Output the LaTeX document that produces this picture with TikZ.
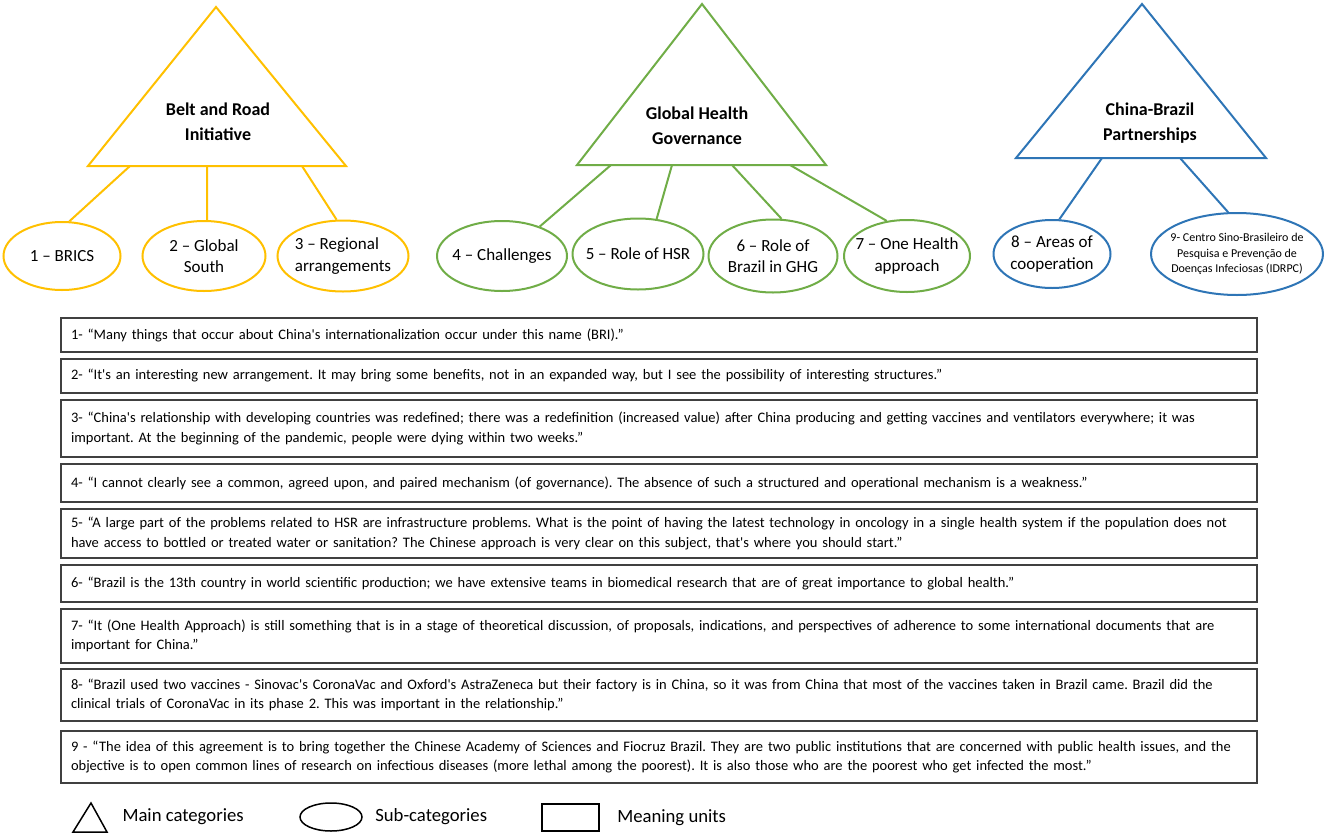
\documentclass[tikz,border=0pt]{standalone}
\usepackage{fontspec}
\setmainfont{Carlito}[Ligatures=TeXOff]
\usepackage{tikz}
\usetikzlibrary{positioning,shapes.geometric}

\definecolor{bricolor}{HTML}{FFC000}
\definecolor{ghgcolor}{HTML}{70AD47}
\definecolor{cbpcolor}{HTML}{2E75B6}
\definecolor{unitgray}{HTML}{404040}

\begin{document}
\frenchspacing
\begin{tikzpicture}[x=1pt, y=-1pt, node distance=7pt, every node/.style={font=\fontsize{14.5}{19.5}\selectfont}]
  % Styles
  \tikzstyle{maincat}=[line width=2pt, line join=miter]
  \tikzstyle{cattitle}=[font=\fontsize{18}{25}\selectfont\bfseries, align=center]
  \tikzstyle{subcat}=[ellipse, draw, line width=2pt, fill=white, inner sep=0pt]
  \tikzstyle{subtxt}=[font=\fontsize{17}{21.5}\selectfont, align=center]
  \tikzstyle{spoke}=[line width=2pt]
  \tikzstyle{unit}=[rectangle, draw=unitgray, line width=1.5pt, text width=1176pt, inner xsep=10pt, outer sep=0pt, align=left]
  \tikzstyle{legline}=[line width=1.5pt, line join=miter]
  \tikzstyle{legtxt}=[font=\fontsize{18.7}{22}\selectfont, anchor=west]

  \useasboundingbox (0,0) rectangle (1325,835);

  % Main categories
  \coordinate (bri-top) at (216,7);
  \coordinate (bri-left) at (88,166);
  \coordinate (bri-right) at (346,166);
  \draw[maincat, draw=bricolor] (bri-top) -- (bri-right) -- (bri-left) -- cycle;
  \node[cattitle] (bri) at (218,122) {Belt and Road\\Initiative};

  \coordinate (ghg-top) at (702,4);
  \coordinate (ghg-left) at (577,165);
  \coordinate (ghg-right) at (826,165);
  \draw[maincat, draw=ghgcolor] (ghg-top) -- (ghg-right) -- (ghg-left) -- cycle;
  \node[cattitle] (ghg) at (697,126) {Global Health\\Governance};

  \coordinate (cbp-top) at (1142,4);
  \coordinate (cbp-left) at (1016,158);
  \coordinate (cbp-right) at (1266,158);
  \draw[maincat, draw=cbpcolor] (cbp-top) -- (cbp-right) -- (cbp-left) -- cycle;
  \node[cattitle] (cbp) at (1150,123) {China-Brazil\\Partnerships};

  % Sub-categories
  \node[subcat, draw=bricolor, minimum width=117pt, minimum height=68pt, label={[subtxt]center:1 – BRICS}] (brics) at (62,256) {};
  \node[subcat, draw=bricolor, minimum width=123pt, minimum height=70pt, label={[subtxt]center:{2 – Global\\South}}] (south) at (204,256) {};
  \node[subcat, draw=bricolor, minimum width=131pt, minimum height=71pt, label={[subtxt, align=left]center:{3 – Regional\\arrangements}}] (regional) at (343,256) {};

  \node[subcat, draw=ghgcolor, minimum width=130pt, minimum height=70pt, label={[subtxt]center:4 – Challenges}] (challenges) at (502,256) {};
  \node[subcat, draw=ghgcolor, minimum width=131pt, minimum height=71pt, label={[subtxt]center:5 – Role of HSR}] (hsr) at (638,254) {};
  \node[subcat, draw=ghgcolor, minimum width=129pt, minimum height=73pt, label={[subtxt]center:{6 – Role of\\Brazil in GHG}}] (brazil) at (773,256) {};
  \node[subcat, draw=ghgcolor, minimum width=126pt, minimum height=72pt, label={[subtxt]center:{7 – One Health\\approach}}] (onehealth) at (907,256) {};

  \node[subcat, draw=cbpcolor, minimum width=117pt, minimum height=68pt, label={[subtxt]center:{8 – Areas of\\cooperation}}] (areas) at (1052,254) {};
  \node[subcat, draw=cbpcolor, minimum width=172pt, minimum height=82pt, label={[subtxt, font=\fontsize{12}{15.5}\selectfont]center:{9- Centro Sino-Brasileiro de\\Pesquisa e Prevenção de\\Doenças Infeciosas (IDRPC)}}] (idrpc) at (1237,254) {};

  % Spokes
  \coordinate (bri-s1) at (130,166);
  \coordinate (bri-s2) at (207,166);
  \coordinate (bri-s3) at (302,166);
  \draw[spoke, bricolor] (bri-s1) -- (brics.78);
  \draw[spoke, bricolor] (bri-s2) -- (south.85);
  \draw[spoke, bricolor] (bri-s3) -- (regional.100);

  \coordinate (ghg-s1) at (611,165);
  \coordinate (ghg-s2) at (672,165);
  \coordinate (ghg-s3) at (732,165);
  \coordinate (ghg-s4) at (790,165);
  \draw[spoke, ghgcolor] (ghg-s1) -- (challenges.38);
  \draw[spoke, ghgcolor] (ghg-s2) -- (hsr.62);
  \draw[spoke, ghgcolor] (ghg-s3) -- (brazil.77);
  \draw[spoke, ghgcolor] (ghg-s4) -- (onehealth.120);

  \coordinate (cbp-s1) at (1102,158);
  \coordinate (cbp-s2) at (1180,158);
  \draw[spoke, cbpcolor] (cbp-s1) -- (areas.78);
  \draw[spoke, cbpcolor] (cbp-s2) -- (idrpc.102);

  % Meaning units
  \node[unit, minimum height=34pt, anchor=north west] (u1) at (61,318) {1- “Many things that occur about China's internationalization occur under this name (BRI).”};
  \node[unit, minimum height=34pt, below=of u1] (u2) {2- “It's an interesting new arrangement. It may bring some benefits, not in an expanded way, but I see the possibility of interesting structures.”};
  \node[unit, minimum height=57pt, below=of u2] (u3) {3- “China's relationship with developing countries was redefined; there was a redefinition (increased value) after China producing and getting vaccines and ventilators everywhere; it was\\important. At the beginning of the pandemic, people were dying within two weeks.”};
  \node[unit, minimum height=38pt, below=of u3] (u4) {4- “I cannot clearly see a common, agreed upon, and paired mechanism (of governance). The absence of such a structured and operational mechanism is a weakness.”};
  \node[unit, minimum height=49pt, below=of u4] (u5) {5- “A large part of the problems related to HSR are infrastructure problems. What is the point of having the latest technology in oncology in a single health system if the population does not\\have access to bottled or treated water or sanitation? The Chinese approach is very clear on this subject, that's where you should start.”};
  \node[unit, minimum height=37pt, below=of u5] (u6) {6- “Brazil is the 13th country in world scientific production; we have extensive teams in biomedical research that are of great importance to global health.”};
  \node[unit, minimum height=54pt, below=of u6] (u7) {7- “It (One Health Approach) is still something that is in a stage of theoretical discussion, of proposals, indications, and perspectives of adherence to some international documents that are\\important for China.”};
  \node[unit, minimum height=52pt, below=6pt of u7] (u8) {8- “Brazil used two vaccines - Sinovac's CoronaVac and Oxford's AstraZeneca but their factory is in China, so it was from China that most of the vaccines taken in Brazil came. Brazil did the\\clinical trials of CoronaVac in its phase 2. This was important in the relationship.”};
  \node[unit, minimum height=52pt, below=10pt of u8] (u9) {9 - “The idea of this agreement is to bring together the Chinese Academy of Sciences and Fiocruz Brazil. They are two public institutions that are concerned with public health issues, and the\\objective is to open common lines of research on infectious diseases (more lethal among the poorest). It is also those who are the poorest who get infected the most.”};

  % Legend
  \coordinate (legtop) at (91,803);
  \coordinate (legleft) at (73,832);
  \coordinate (legright) at (107,832);
  \draw[legline] (legtop) -- (legright) -- (legleft) -- cycle;
  \node[legtxt] (legmaintxt) at (119,817) {Main categories};
  \node[ellipse, draw, line width=1.5pt, minimum width=62pt, minimum height=28pt] (legsub) at (331,817) {};
  \node[legtxt, right=9pt of legsub] (legsubtxt) {Sub-categories};
  \node[rectangle, draw, line width=1.5pt, minimum width=57pt, minimum height=27pt] (legunit) at (570.5,817.5) {};
  \node[legtxt, right=14pt of legunit] (legunittxt) {Meaning units};
\end{tikzpicture}
\end{document}
